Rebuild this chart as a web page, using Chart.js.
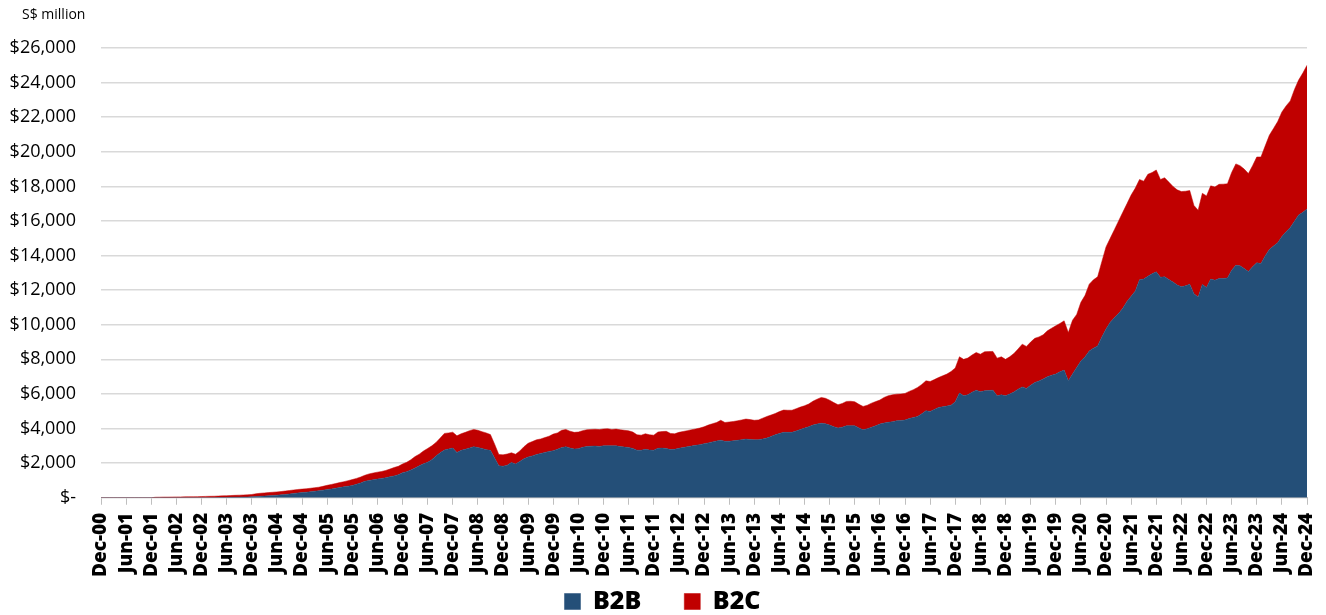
<!DOCTYPE html>
<html>
<head>
<meta charset="utf-8">
<title>B2B and B2C</title>
<script src="https://cdn.jsdelivr.net/npm/chart.js@4.4.1/dist/chart.umd.min.js"></script>
<style>
  html, body { margin: 0; padding: 0; background: #ffffff; overflow: hidden; }
  #wrap { position: relative; width: 1326px; height: 615px; }
</style>
</head>
<body>
<div id="wrap"><canvas id="ecomChart"></canvas></div>
<script>
// Monthly values, S$ million, Dec-00 .. Dec-24 (one row per calendar year)
const b2b = [
  0,
  0, 0, 0, 0, 0, 0, 0, 0, 0, 0, 0, 0,
  0, 0, 0, 0, 0, 0, 0, 0, 0, 0, 0, 0,
  0, 0, 5, 10, 15, 20, 25, 30, 35, 40, 45, 55,
  70, 90, 100, 115, 130, 150, 170, 190, 220, 250, 280, 300,
  320, 350, 380, 400, 440, 480, 510, 550, 590, 630, 670, 710,
  780, 860, 950, 1000, 1040, 1080, 1120, 1160, 1210, 1260, 1330, 1450,
  1510, 1600, 1720, 1850, 1960, 2060, 2200, 2420, 2600, 2760, 2820, 2870,
  2620, 2740, 2800, 2880, 2950, 2900, 2850, 2780, 2740, 2300, 1850, 1820,
  1880, 2040, 1950, 2100, 2250, 2350, 2420, 2500, 2560, 2620, 2680, 2720,
  2800, 2900, 2950, 2870, 2820, 2840, 2920, 2960, 2980, 2990, 2970, 3000,
  3010, 3000, 3000, 2960, 2930, 2910, 2850, 2750, 2750, 2800, 2760, 2750,
  2860, 2870, 2850, 2790, 2800, 2860, 2900, 2950, 2990, 3030, 3070, 3120,
  3170, 3230, 3280, 3330, 3260, 3270, 3290, 3320, 3360, 3390, 3370, 3350,
  3360, 3400, 3450, 3540, 3640, 3720, 3780, 3780, 3780, 3860, 3950, 4030,
  4100, 4200, 4260, 4310, 4280, 4200, 4100, 4030, 4080, 4160, 4170, 4160,
  4040, 3930, 3990, 4070, 4160, 4260, 4320, 4360, 4400, 4450, 4470, 4490,
  4580, 4640, 4700, 4850, 5030, 4990, 5100, 5220, 5260, 5300, 5350, 5550,
  6050, 5900, 5950, 6100, 6220, 6130, 6180, 6200, 6220, 5890, 5950, 5890,
  6000, 6120, 6280, 6410, 6320, 6500, 6660, 6750, 6860, 7000, 7080, 7150,
  7280, 7380, 6760, 7150, 7530, 7900, 8150, 8490, 8650, 8780, 9300, 9750,
  10150, 10400, 10650, 10950, 11350, 11650, 11950, 12600, 12650, 12800, 12950, 13060,
  12750, 12770, 12620, 12470, 12300, 12200, 12250, 12350, 11800, 11600, 12330, 12150,
  12640, 12580, 12670, 12680, 12700, 13150, 13440, 13410, 13250, 13080, 13350, 13580,
  13540, 13980, 14350, 14550, 14740, 15100, 15380, 15620, 15980, 16350, 16500, 16700
];

const b2c = [
  0,
  0, 0, 0, 0, 0, 0, 0, 0, 0, 0, 0, 0,
  30, 35, 40, 40, 45, 50, 50, 55, 60, 60, 65, 70,
  80, 85, 85, 90, 95, 100, 105, 110, 115, 120, 125, 135,
  160, 170, 180, 185, 190, 190, 190, 200, 200, 200, 200, 200,
  200, 200, 200, 210, 220, 240, 260, 270, 290, 300, 320, 340,
  340, 340, 350, 380, 390, 400, 400, 420, 450, 490, 490, 500,
  540, 600, 660, 670, 740, 790, 800, 780, 850, 960, 930, 920,
  960, 960, 980, 1000, 1000, 1000, 970, 970, 910, 800, 650, 660,
  650, 560, 570, 600, 700, 800, 830, 850, 840, 860, 880, 960,
  950, 1000, 1000, 980, 960, 960, 960, 970, 970, 970, 970, 980,
  980, 950, 970, 970, 970, 960, 950, 890, 870, 900, 880, 870,
  940, 960, 990, 930, 900, 920, 930, 930, 940, 950, 960, 980,
  1030, 1050, 1070, 1150, 1090, 1110, 1120, 1130, 1140, 1160, 1150, 1130,
  1140, 1200, 1250, 1240, 1230, 1260, 1290, 1280, 1280, 1290, 1290, 1290,
  1320, 1380, 1440, 1490, 1470, 1440, 1400, 1350, 1370, 1410, 1410, 1390,
  1360, 1350, 1360, 1400, 1400, 1390, 1480, 1540, 1550, 1540, 1530, 1540,
  1570, 1610, 1680, 1700, 1730, 1730, 1730, 1730, 1790, 1850, 1950, 1950,
  2100, 2100, 2130, 2150, 2180, 2170, 2260, 2250, 2240, 2180, 2200, 2110,
  2150, 2220, 2320, 2470, 2430, 2500, 2560, 2550, 2560, 2650, 2720, 2790,
  2800, 2850, 2790, 3110, 3070, 3400, 3550, 3860, 3950, 3990, 4350, 4750,
  4850, 5100, 5350, 5550, 5650, 5850, 5950, 5800, 5650, 5900, 5850, 5890,
  5650, 5730, 5630, 5530, 5500, 5500, 5470, 5410, 5100, 5020, 5270, 5300,
  5390, 5390, 5450, 5450, 5450, 5650, 5860, 5790, 5750, 5660, 5850, 6120,
  6160, 6350, 6600, 6800, 7010, 7200, 7270, 7320, 7620, 7800, 8050, 8300
];

const monthNames = ['Jan', 'Feb', 'Mar', 'Apr', 'May', 'Jun', 'Jul', 'Aug', 'Sep', 'Oct', 'Nov', 'Dec'];
const yTicks = [0, 2000, 4000, 6000, 8000, 10000, 12000, 14000, 16000, 18000, 20000, 22000, 24000, 26000];
const seriesNames = ['B2B', 'B2C'];

// Category labels: Dec-00 then every month up to Dec-24
const months = ['Dec-00'];
for (let yr = 1; yr <= 24; yr++) {
  monthNames.forEach(m => months.push(`${m}-${String(yr).padStart(2, '0')}`));
}

const chartConfig = {
  colors: {
    b2b: '#244f78',
    b2c: '#c00000',
    grid: '#d9d9d9',
    axis: '#bfbfbf'
  },
  font: "'Open Sans', 'Noto Sans', sans-serif"
};

// Unit label above the value axis
const unitLabel = {
  id: 'unitLabel',
  afterLayout(chart) {
    // nudge the legend row so it centres under the page, not the padded box
    if (chart.legend) chart.legend.left += 18;
  },
  afterDraw(chart) {
    const ctx = chart.ctx;
    ctx.save();
    ctx.font = `14px ${chartConfig.font}`;
    ctx.fillStyle = '#000000';
    ctx.textBaseline = 'middle';
    ctx.fillText('S$ million', 22, 15);
    ctx.restore();
  }
};

document.addEventListener('DOMContentLoaded', () => {
  if (typeof Chart === 'undefined') {
    console.error('Chart.js is not loaded');
    return;
  }
  createEcomChart();
});

function createEcomChart() {
  const ctx = document.getElementById('ecomChart').getContext('2d');

  return new Chart(ctx, {
    type: 'line',
    data: {
      labels: months,
      datasets: [
        {
          label: seriesNames[0],
          data: b2b,
          backgroundColor: chartConfig.colors.b2b,
          borderColor: chartConfig.colors.b2b,
          borderWidth: 0.5,
          pointRadius: 0,
          fill: 'origin',
          tension: 0
        },
        {
          label: seriesNames[1],
          data: b2c,
          backgroundColor: chartConfig.colors.b2c,
          borderColor: chartConfig.colors.b2c,
          borderWidth: 0.5,
          pointRadius: 0,
          fill: '-1',
          tension: 0
        }
      ]
    },
    options: {
      responsive: true,
      maintainAspectRatio: false,
      animation: false,
      devicePixelRatio: 1,
      layout: {
        // negative bottom lets the legend sit close to the window edge
        padding: { top: 48, right: 19, bottom: -9, left: 0 }
      },
      scales: {
        x: {
          offset: false,
          afterFit: scale => {
            // last rotated label may overhang, keep plot right edge fixed
            scale.paddingRight = 0;
          },
          border: { display: true, color: chartConfig.colors.axis, width: 1 },
          grid: {
            drawOnChartArea: false,
            drawTicks: true,
            tickLength: 7,
            color: chartConfig.colors.axis
          },
          ticks: {
            autoSkip: false,
            maxRotation: 90,
            minRotation: 90,
            padding: 8,
            color: '#000000',
            font: { family: chartConfig.font, size: 19, weight: '800' },
            callback: (val, i) => (i % 6 === 0 ? months[i] : null)
          }
        },
        y: {
          stacked: true,
          min: 0,
          max: 26000,
          afterBuildTicks: scale => {
            scale.ticks = yTicks.map(v => ({ value: v }));
          },
          afterFit: scale => {
            scale.width = 101;
          },
          border: { display: false },
          grid: {
            color: chartConfig.colors.grid,
            lineWidth: 1.5,
            drawTicks: false
          },
          ticks: {
            padding: 25,
            color: '#000000',
            font: { family: chartConfig.font, size: 18 },
            callback: v => (v === 0 ? '$-' : '$' + v.toLocaleString('en-US'))
          }
        }
      },
      plugins: {
        legend: {
          position: 'bottom',
          labels: {
            boxWidth: 16,
            boxHeight: 16,
            padding: 4,
            color: '#000000',
            font: { family: chartConfig.font, size: 25, weight: '800' },
            generateLabels: chart => {
              const items = Chart.defaults.plugins.legend.labels.generateLabels(chart);
              // widen the gap after the first entry
              items[0].text = items[0].text + '      ';
              return items;
            }
          }
        },
        tooltip: { enabled: false }
      }
    },
    plugins: [unitLabel]
  });
}
</script>
</body>
</html>
